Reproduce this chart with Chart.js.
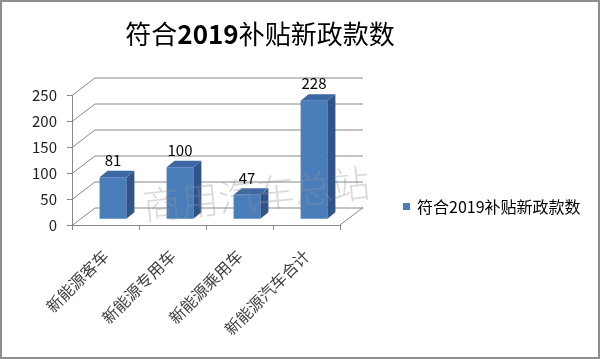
<!DOCTYPE html>
<html><head><meta charset="utf-8">
<script src="https://cdn.jsdelivr.net/npm/chart.js@4/dist/chart.umd.min.js"></script>
<style>html,body{margin:0;padding:0;background:#fff}canvas{display:block}</style>
</head><body>
<canvas id="c" width="600" height="359"></canvas>
<script>
// ---- data ----
const categories = ['新能源客车', '新能源专用车', '新能源乘用车', '新能源汽车合计'];
const seriesName = '符合2019补贴新政款数';
const values = [81, 100, 47, 228];
const yTicks = [0, 50, 100, 150, 200, 250];
const titleParts = [['符合', false], ['2019', true], ['补贴新政款数', false]];
const watermarkText = '商用汽车总站';

// ---- style ----
const FONT = '"Noto Sans CJK SC", "Liberation Sans", sans-serif';
const FRONT = '#4A7EBB';
const SIDE = '#30548A';
const TOP = '#3D68A3';
const GRID = '#878787';
const DEPTH = {dx: 23, dy: -17.5};
const BAR_SHIFT = {dx: 7.5, dy: -5.7};
const BAR_DEPTH = {dx: 8, dy: -6.5};

const threeD = {
  id: 'threeD',
  beforeDraw(chart) {
    const ctx = chart.ctx;
    ctx.save(); ctx.fillStyle = '#fff'; ctx.fillRect(0, 0, chart.width, chart.height); ctx.restore();
  },
  beforeDatasetsDraw(chart) {
    const {ctx, chartArea: a, scales: {y}} = chart;
    ctx.save();
    ctx.strokeStyle = GRID; ctx.lineWidth = 1;
    yTicks.forEach(v => {
      const py = Math.round(y.getPixelForValue(v)) + 0.5;
      ctx.beginPath();
      ctx.moveTo(a.left, py);
      ctx.lineTo(a.left + DEPTH.dx, py + DEPTH.dy);
      ctx.lineTo(a.right + DEPTH.dx, py + DEPTH.dy);
      ctx.stroke();
    });
    ctx.beginPath();
    ctx.moveTo(a.right, a.bottom);
    ctx.lineTo(a.right + DEPTH.dx, a.bottom + DEPTH.dy);
    ctx.stroke();
    ctx.restore();
    ctx.save();
    ctx.translate(BAR_SHIFT.dx, BAR_SHIFT.dy);
  },
  afterDatasetsDraw(chart) {
    const ctx = chart.ctx;
    const meta = chart.getDatasetMeta(0);
    meta.data.forEach((bar, i) => {
      const {x, y, base, width} = bar.getProps(['x', 'y', 'base', 'width'], true);
      const l = x - width / 2, r = x + width / 2;
      ctx.fillStyle = SIDE;
      ctx.beginPath();
      ctx.moveTo(r, y); ctx.lineTo(r + BAR_DEPTH.dx, y + BAR_DEPTH.dy);
      ctx.lineTo(r + BAR_DEPTH.dx, base + BAR_DEPTH.dy); ctx.lineTo(r, base);
      ctx.closePath(); ctx.fill();
      ctx.fillStyle = TOP;
      ctx.beginPath();
      ctx.moveTo(l, y); ctx.lineTo(l + BAR_DEPTH.dx, y + BAR_DEPTH.dy);
      ctx.lineTo(r + BAR_DEPTH.dx, y + BAR_DEPTH.dy); ctx.lineTo(r, y);
      ctx.closePath(); ctx.fill();
      ctx.fillStyle = '#000';
      ctx.font = '15px ' + FONT;
      ctx.textAlign = 'center'; ctx.textBaseline = 'middle';
      ctx.fillText(String(values[i]), x, y - 17);
    });
    ctx.restore();
  },
  afterDraw(chart) {
    const ctx = chart.ctx;
    // title
    ctx.save();
    ctx.textBaseline = 'middle'; ctx.textAlign = 'left'; ctx.fillStyle = '#000';
    const fonts = titleParts.map(p => (p[1] ? 'bold ' : '') + '26px ' + FONT);
    let total = 0;
    const widths = titleParts.map((p, i) => { ctx.font = fonts[i]; const w = ctx.measureText(p[0]).width; total += w; return w; });
    let tx = 260 - total / 2;
    titleParts.forEach((p, i) => { ctx.font = fonts[i]; ctx.fillText(p[0], tx, 34); tx += widths[i]; });
    ctx.restore();
    // legend
    ctx.save();
    ctx.fillStyle = FRONT; ctx.fillRect(403, 203, 7, 7);
    ctx.fillStyle = '#000'; ctx.font = '16px ' + FONT; ctx.textBaseline = 'middle'; ctx.textAlign = 'left';
    ctx.fillText(seriesName, 417, 207);
    ctx.restore();
    // watermark
    ctx.save();
    ctx.translate(143, 206); ctx.rotate(-6 * Math.PI / 180);
    ctx.fillStyle = 'rgba(150,150,150,0.35)';
    ctx.font = '300 38px ' + FONT; ctx.textBaseline = 'middle'; ctx.textAlign = 'left';
    ctx.fillText(watermarkText, 0, 0);
    ctx.restore();
    // border
    ctx.save();
    ctx.strokeStyle = '#8e8e8e'; ctx.lineWidth = 2;
    ctx.strokeRect(1, 1, chart.width - 2, chart.height - 2);
    ctx.restore();
  }
};

new Chart(document.getElementById('c'), {
  type: 'bar',
  data: {
    labels: categories,
    datasets: [{
      label: seriesName,
      data: values,
      backgroundColor: FRONT,
      borderWidth: 0,
      barPercentage: 0.4,
      categoryPercentage: 1.0
    }]
  },
  options: {
    responsive: false,
    animation: false,
    devicePixelRatio: 1,
    layout: {padding: {top: 95, right: 260, left: 0, bottom: 0}},
    plugins: {legend: {display: false}, title: {display: false}, tooltip: {enabled: false}},
    scales: {
      x: {
        grid: {drawOnChartArea: false, drawTicks: true, tickLength: 5, color: GRID, offset: true},
        border: {display: true, color: GRID},
        ticks: {maxRotation: 45, minRotation: 45, autoSkip: false, padding: 16, color: '#404040', font: {size: 16, family: FONT}},
        afterFit(s) { s.height = 134; }
      },
      y: {
        min: 0, max: 250,
        ticks: {stepSize: 50, padding: 10, color: '#222', font: {size: 15, family: FONT}},
        grid: {drawOnChartArea: false, drawTicks: true, tickLength: 5, color: GRID},
        border: {display: true, color: GRID},
        afterFit(s) { s.width = 72; }
      }
    }
  },
  plugins: [threeD]
});
</script>
</body></html>
